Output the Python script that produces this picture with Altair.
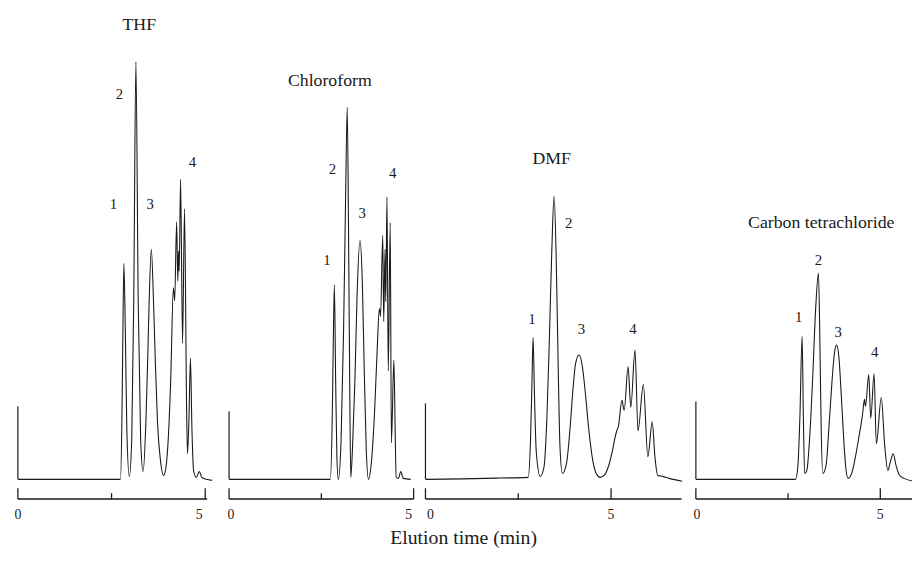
import altair as alt
import pandas as pd

# Elution time (min) and detector response (arbitrary units above the baseline),
# read off the four chromatograms.
THF_T = [0.0, 1.0, 2.0, 2.737, 2.776, 2.803, 2.829, 2.868, 2.908, 2.974, 3.039, 3.092,
         3.15, 3.211, 3.276, 3.342, 3.416, 3.461, 3.5, 3.561, 3.624, 3.671, 3.726, 3.803,
         3.887, 3.947, 4.013, 4.079, 4.15, 4.184, 4.237, 4.268, 4.289, 4.305, 4.342, 4.395,
         4.447, 4.5, 4.526, 4.566, 4.605, 4.645, 4.692, 4.763, 4.842, 4.908, 5.026, 5.184]
THF_S = [0, 0, 0, 0, 60, 150, 219, 150, 50, 3, 41, 181,
         423, 181, 41, 8, 58, 116, 175, 233, 175, 116, 58, 20,
         4, 11, 41, 101, 194, 181, 261, 201, 231, 211, 304, 138,
         274, 81, 26, 61, 123, 51, 8, 2, 8, 2, 0, -1]

CHCL3_T = [0.0, 2.70, 2.74, 2.794, 2.824, 2.853, 2.888, 2.92, 2.96, 3.035, 3.102, 3.155,
           3.201, 3.235, 3.27, 3.297, 3.342, 3.409, 3.471, 3.548, 3.61, 3.663, 3.717, 3.778,
           3.85, 3.944, 4.011, 4.072, 4.104, 4.163, 4.19, 4.225, 4.246, 4.278, 4.313, 4.366,
           4.398, 4.465, 4.5, 4.527, 4.586, 4.652, 4.719, 4.92]
CHCL3_S = [0, 0, 0, 60, 140, 197, 100, 25, 0, 40, 150, 280,
           377, 260, 90, 2, 30, 100, 190, 242, 200, 110, 30, 0,
           15, 70, 130, 173, 165, 247, 160, 233, 180, 286, 110, 260,
           37, 121, 50, 2, 1, 8, 1, 0]

DMF_T = [0.0, 1.0, 2.0, 2.766, 2.832, 2.872, 2.899, 2.939, 2.987, 3.093, 3.191, 3.271,
         3.338, 3.404, 3.465, 3.524, 3.577, 3.625, 3.689, 3.803, 3.896, 3.976, 4.043, 4.141,
         4.229, 4.309, 4.402, 4.508, 4.601, 4.707, 4.814, 4.92, 5.027, 5.106, 5.152, 5.2,
         5.293, 5.354, 5.46, 5.532, 5.646, 5.726, 5.87, 5.992, 6.109, 6.184, 6.258, 6.391,
         6.569, 6.915]
DMF_S = [0, 0.5, 1.3, 2, 42, 102, 144, 82, 27, 3, 12, 62,
         142, 232, 287, 222, 112, 32, 6, 17, 52, 92, 117, 126,
         114, 87, 50, 19, 6, 2, 4, 12, 27, 42, 49, 54,
         80, 70, 114, 73, 131, 49, 96, 23, 58, 22, 4, 3,
         1, -2]

CCL4_T = [0.0, 2.701, 2.767, 2.821, 2.88, 2.914, 2.949, 3.008, 3.088, 3.168, 3.249, 3.324,
          3.364, 3.396, 3.441, 3.529, 3.61, 3.69, 3.757, 3.816, 3.877, 3.944, 4.011, 4.064,
          4.126, 4.225, 4.332, 4.425, 4.484, 4.519, 4.572, 4.599, 4.687, 4.741, 4.832, 4.893,
          5.027, 5.12, 5.206, 5.267, 5.348, 5.428, 5.508, 5.642, 6.07]
CCL4_S = [0, 0, 14, 64, 145, 64, 6, 9, 44, 104, 174, 209,
          134, 54, 6, 14, 54, 99, 128, 136, 124, 84, 39, 12,
          1, 6, 24, 44, 57, 66, 81, 74, 106, 62, 107, 36,
          83, 34, 9, 17, 26, 14, 5, 1, -3]

SOLVENTS = ["THF", "Chloroform", "DMF", "Carbon tetrachloride"]
TRACE_T = [THF_T, CHCL3_T, DMF_T, CCL4_T]
TRACE_S = [THF_S, CHCL3_S, DMF_S, CCL4_S]
INJECTION_S = [74, 69, 77, 79]

# where the solvent name sits (time, response)
TITLE_T = [3.24, 2.73, 3.40, 3.40]
TITLE_S = [460, 404, 325, 260]

PEAK_NAMES = ["1", "2", "3", "4"]
PEAK_LABEL_T = [[2.55, 2.71, 3.53, 4.66],
                [2.65, 2.80, 3.61, 4.43],
                [2.87, 3.86, 4.20, 5.59],
                [2.79, 3.32, 3.86, 4.85]]
PEAK_LABEL_S = [[279, 390, 279, 322],
                [222, 314, 270, 310],
                [162, 260, 152, 152],
                [164, 222, 149, 129]]

MAJOR_TICKS = [0, 5]
MINOR_TICKS = [2.5]
AXIS_END = [5.05, 5.0, 6.9, 5.86]
X_MAX = [5.32, 5.0, 6.94, 5.86]

# layout / style
PANEL_W = [202, 187, 261, 219]
Y_DOMAIN = [-42, 474]
PANEL_H = 516
AXIS_S = -20
MAJOR_TOP = -9
MINOR_TOP = -14
LABEL_S = -36
LABEL_DX = [(0, -6), (2, -5), (5, 0), (1, 0)]
SERIF = "Liberation Serif"
INK = "#1a1a1a"


def panel(i):
    xs = alt.Scale(domain=[0, X_MAX[i]], nice=False, zero=False)
    ys = alt.Scale(domain=Y_DOMAIN, nice=False, zero=False)

    trace = pd.DataFrame({"t": TRACE_T[i], "s": TRACE_S[i]})
    trace["i"] = range(len(trace))
    line = alt.Chart(trace).mark_line(
        interpolate="monotone", color=INK, strokeWidth=1.1, clip=True
    ).encode(
        x=alt.X("t:Q", scale=xs, axis=None),
        y=alt.Y("s:Q", scale=ys, axis=None),
        order="i:Q",
    )

    spike = alt.Chart(pd.DataFrame({"t": [0.0], "s0": [0], "s1": [INJECTION_S[i]]})).mark_rule(
        color=INK, strokeWidth=1.2
    ).encode(x=alt.X("t:Q", scale=xs), y=alt.Y("s0:Q", scale=ys), y2="s1:Q")

    axis_line = alt.Chart(pd.DataFrame({"t0": [0.0], "t1": [AXIS_END[i]], "s": [AXIS_S]})).mark_rule(
        color=INK, strokeWidth=1.5
    ).encode(x=alt.X("t0:Q", scale=xs), x2="t1:Q", y=alt.Y("s:Q", scale=ys))

    ticks = pd.DataFrame({
        "t": MAJOR_TICKS + MINOR_TICKS,
        "s0": [AXIS_S] * (len(MAJOR_TICKS) + len(MINOR_TICKS)),
        "s1": [MAJOR_TOP] * len(MAJOR_TICKS) + [MINOR_TOP] * len(MINOR_TICKS),
    })
    tick_marks = alt.Chart(ticks).mark_rule(color=INK, strokeWidth=1.3).encode(
        x=alt.X("t:Q", scale=xs), y=alt.Y("s0:Q", scale=ys), y2="s1:Q"
    )

    tick_text = []
    for k, tv in enumerate(MAJOR_TICKS):
        tick_text.append(
            alt.Chart(pd.DataFrame({"t": [tv], "s": [LABEL_S], "lab": [str(tv)]})).mark_text(
                font=SERIF, fontSize=14, color=INK, dx=LABEL_DX[i][k], baseline="middle"
            ).encode(x=alt.X("t:Q", scale=xs), y=alt.Y("s:Q", scale=ys), text="lab:N")
        )

    peaks = pd.DataFrame({"t": PEAK_LABEL_T[i], "s": PEAK_LABEL_S[i], "lab": PEAK_NAMES})
    peak_text = alt.Chart(peaks).mark_text(
        font=SERIF, fontSize=15, color=INK, baseline="middle"
    ).encode(x=alt.X("t:Q", scale=xs), y=alt.Y("s:Q", scale=ys), text="lab:N")

    name = pd.DataFrame({"t": [TITLE_T[i]], "s": [TITLE_S[i]], "lab": [SOLVENTS[i]]})
    name_text = alt.Chart(name).mark_text(
        font=SERIF, fontSize=18, color=INK, baseline="middle"
    ).encode(x=alt.X("t:Q", scale=xs), y=alt.Y("s:Q", scale=ys), text="lab:N")

    return alt.layer(
        line, spike, axis_line, tick_marks, *tick_text, peak_text, name_text
    ).properties(width=PANEL_W[i], height=PANEL_H)


chart = alt.hconcat(*[panel(i) for i in range(4)], spacing=10).resolve_scale(
    x="independent", y="independent"
).properties(
    title=alt.TitleParams(
        "Elution time (min)", orient="bottom", anchor="middle",
        font=SERIF, fontSize=20, fontWeight="normal", color=INK, offset=7
    ),
    padding={"left": 6, "top": 0, "right": 0, "bottom": 0},
).configure_view(stroke=None)

chart.save("out.html", embed_options={"renderer": "svg", "actions": False})
